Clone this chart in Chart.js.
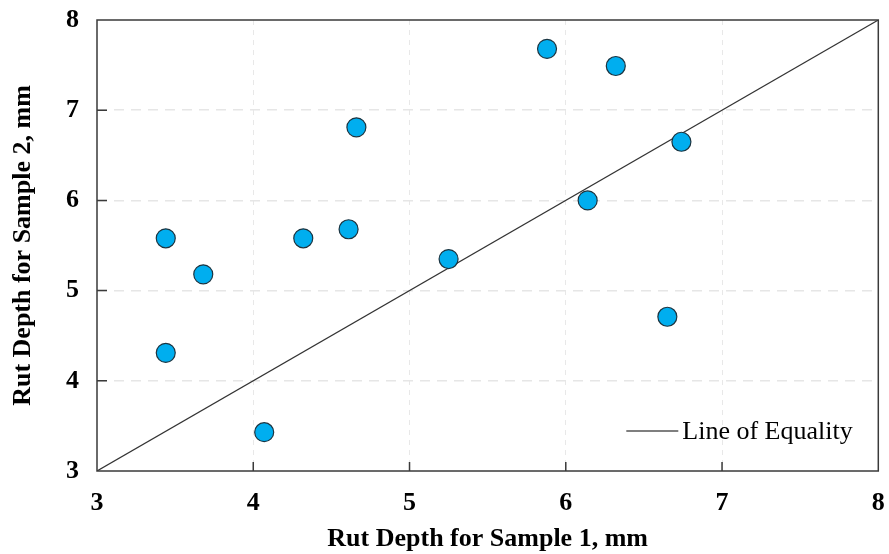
<!DOCTYPE html>
<html>
<head>
<meta charset="utf-8">
<script src="https://cdn.jsdelivr.net/npm/chart.js@4/dist/chart.umd.min.js"></script>
<style>
  html, body { margin: 0; padding: 0; background: #fff; }
  #wrap { width: 889px; height: 554px; }
</style>
</head>
<body>
<div id="wrap"><canvas id="myChart" width="889" height="554"></canvas></div>
<script>
// rut depth pairs, sample 1 vs sample 2 (mm)
var sample1 = [3.44, 3.44, 3.68, 4.07, 4.32, 4.61, 4.66, 5.25, 5.88, 6.14, 6.32, 6.74, 6.65];
var sample2 = [5.58, 4.31, 5.18, 3.43, 5.58, 5.68, 6.81, 5.35, 7.68, 6.00, 7.49, 6.65, 4.71];
var equalityX = [3, 8];
var equalityY = [3, 8];
var axisMin = 3, axisMax = 8;

var serif = "'Liberation Serif', 'Times New Roman', serif";
var ctx = document.getElementById('myChart').getContext('2d');

var points = sample1.map((x, i) => ({x: x, y: sample2[i]}));
var eqLine = equalityX.map((x, i) => ({x: x, y: equalityY[i]}));

// box around plot, inward tick marks and the in-plot legend
var frame = {
  id: 'frame',
  afterDatasetsDraw(chart) {
    let c = chart.ctx, a = chart.chartArea;
    let xs = chart.scales.x, ys = chart.scales.y;
    c.save();
    c.strokeStyle = '#3a3a3a';
    c.lineWidth = 1.5;
    c.strokeRect(a.left, a.top, a.right - a.left, a.bottom - a.top);
    c.beginPath();
    for (let v = axisMin + 1; v < axisMax; v++) {
      let px = xs.getPixelForValue(v);
      c.moveTo(px, a.bottom);
      c.lineTo(px, a.bottom - 9);
      let py = ys.getPixelForValue(v);
      c.moveTo(a.left, py);
      c.lineTo(a.left + 10, py);
    }
    c.stroke();

    // legend
    let ds = chart.data.datasets[1];
    let ly = a.bottom - 40;
    let tx = a.right - 196;
    c.strokeStyle = '#000';
    c.lineWidth = 1.2;
    c.beginPath();
    c.moveTo(tx - 56, ly);
    c.lineTo(tx - 4, ly);
    c.stroke();
    c.fillStyle = '#000';
    c.font = "26px " + serif;
    c.textBaseline = 'middle';
    c.textAlign = 'left';
    c.fillText(ds.label, tx, ly + 1);
    c.restore();
  }
};

// no extra room for labels hanging past the plot edges
function noOverhang(s) {
  s.paddingTop = 0; s.paddingBottom = 0;
  s.paddingLeft = 0; s.paddingRight = 0;
}

var myChart = new Chart(ctx, {
  type: 'scatter',
  data: {
    datasets: [{
      label: 'Rut Depth',
      data: points,
      backgroundColor: '#00AEEF',
      borderColor: '#1c3440',
      borderWidth: 1.2,
      pointRadius: 9.5,
      pointHoverRadius: 9.5,
      order: 1
    }, {
      type: 'line',
      label: 'Line of Equality',
      data: eqLine,
      borderColor: '#333',
      borderWidth: 1.2,
      pointRadius: 0,
      fill: false,
      order: 2
    }]
  },
  options: {
    responsive: false,
    animation: false,
    layout: { padding: { left: 0, top: 20, right: 10, bottom: 0 } },
    plugins: {
      legend: { display: false },
      tooltip: { enabled: false }
    },
    scales: {
      x: {
        type: 'linear',
        min: axisMin, max: axisMax,
        afterFit: s => { s.height = 83; noOverhang(s); },
        grid: {
          color: ctx => (ctx.tick && (ctx.tick.value === axisMin || ctx.tick.value === axisMax)) ? 'rgba(0,0,0,0)' : '#e8e8e8',
          lineWidth: 1,
          drawTicks: false
        },
        border: { display: false, dash: [5, 5] },
        ticks: {
          stepSize: 1,
          padding: 17,
          color: '#000',
          maxRotation: 0,
          font: { family: serif, size: 26, weight: 'bold' }
        },
        title: {
          display: true,
          text: 'Rut Depth for Sample 1, mm',
          color: '#000',
          padding: { top: 0, bottom: 0 },
          font: { family: serif, size: 26, weight: 'bold', lineHeight: 1.1 }
        }
      },
      y: {
        type: 'linear',
        min: axisMin, max: axisMax,
        afterFit: s => { s.width = 97; noOverhang(s); },
        grid: {
          color: ctx => (ctx.tick && (ctx.tick.value === axisMin || ctx.tick.value === axisMax)) ? 'rgba(0,0,0,0)' : '#e6e6e6',
          lineWidth: 1.5,
          drawTicks: false
        },
        border: { display: false, dash: [10, 7] },
        ticks: {
          stepSize: 1,
          padding: 18,
          color: '#000',
          font: { family: serif, size: 26, weight: 'bold' }
        },
        title: {
          display: true,
          text: 'Rut Depth for Sample 2, mm',
          color: '#000',
          padding: { top: 8, bottom: 8 },
          font: { family: serif, size: 26, weight: 'bold', lineHeight: 1.2 }
        }
      }
    }
  },
  plugins: [frame]
});
</script>
</body>
</html>
